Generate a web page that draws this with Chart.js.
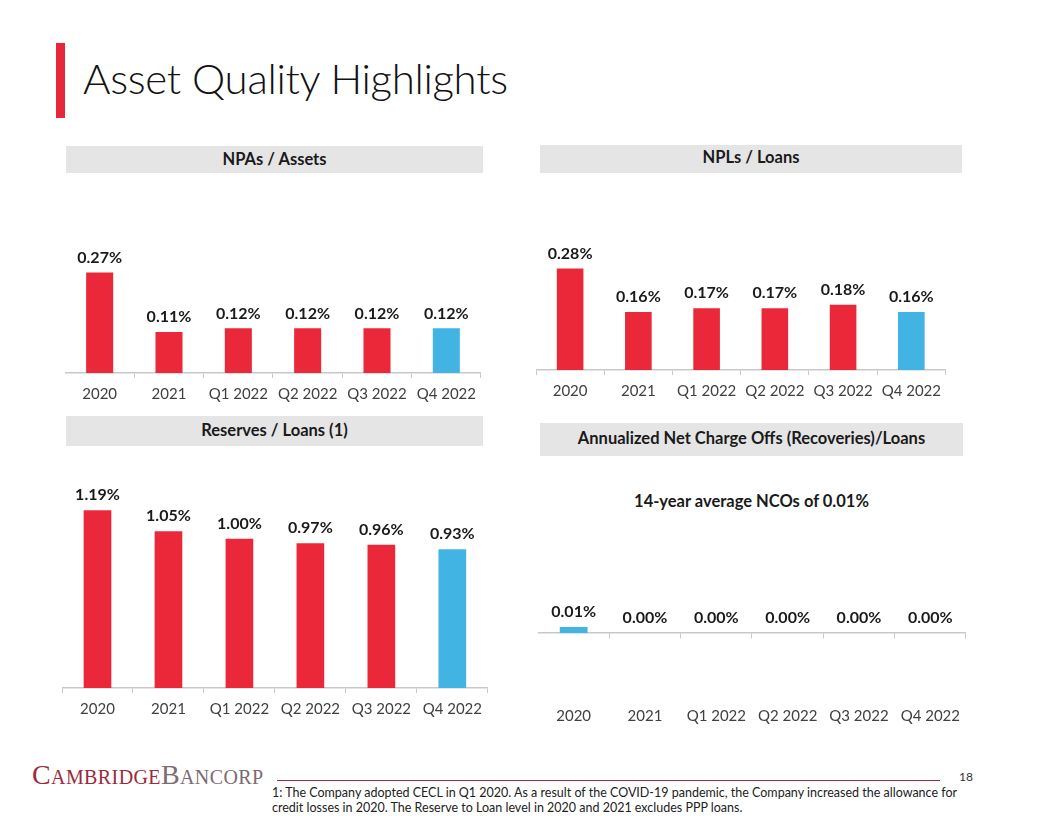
<!DOCTYPE html>
<html>
<head>
<meta charset="utf-8">
<script src="https://cdn.jsdelivr.net/npm/chart.js@4.4.1/dist/chart.umd.min.js"></script>
<style>
  html, body { margin: 0; padding: 0; background: #fff; }
  #page { position: relative; width: 1056px; height: 816px; overflow: hidden; font-family: Lato, "Open Sans", sans-serif; color: #1a1a1a; }
  .accent { position: absolute; left: 56px; top: 43px; width: 9px; height: 75px; background: #E8283A; }
  .title { position: absolute; left: 83px; top: 53px; font-size: 42px; letter-spacing: -0.3px; font-weight: 300; color: #111; white-space: nowrap; }
  .hdr { position: absolute; background: #E6E5E6; font-weight: 700; font-size: 16.5px; text-align: center; color: #1a1a1a; white-space: nowrap; }
  .sub { position: absolute; left: 540px; width: 423px; top: 491px; text-align: center; font-weight: 700; font-size: 16.5px; }
  .box { position: absolute; }
  .logo { position: absolute; left: 32px; top: 759px; font-family: "Liberation Serif", "DejaVu Serif", serif; font-size: 28px; font-variant: small-caps; letter-spacing: 0.4px; white-space: nowrap; }
  .logo .c { color: #9C2A3A; }
  .logo .b { color: #7E6A72; }
  .rule { position: absolute; left: 277px; top: 780px; width: 663px; height: 1px; background: #9C2A3A; }
  .pnum { position: absolute; left: 959px; top: 769px; font-size: 12px; color: #333; }
  .note { position: absolute; left: 272px; top: 785px; font-size: 12.5px; line-height: 15px; color: #222; white-space: nowrap; }
</style>
</head>
<body>
<div id="page">
  <div class="accent"></div>
  <div class="title">Asset Quality Highlights</div>

  <div class="hdr" style="left:66px;top:146px;width:417px;height:27px;line-height:27px;">NPAs / Assets</div>
  <div class="hdr" style="left:540px;top:145px;width:422px;height:28px;line-height:25px;">NPLs / Loans</div>
  <div class="hdr" style="left:66px;top:416px;width:417px;height:30px;line-height:28px;">Reserves / Loans (1)</div>
  <div class="hdr" style="left:540px;top:423px;width:423px;height:33px;line-height:31px;">Annualized Net Charge Offs (Recoveries)/Loans</div>
  <div class="sub">14-year average NCOs of 0.01%</div>

  <div class="box" style="left:65px;top:200px;width:418px;height:210px;"><canvas id="chartNpa"></canvas></div>
  <div class="box" style="left:536px;top:190px;width:412px;height:217px;"><canvas id="chartNpl"></canvas></div>
  <div class="box" style="left:62px;top:470px;width:427px;height:255px;"><canvas id="chartRes"></canvas></div>
  <div class="box" style="left:538px;top:543px;width:428px;height:188px;"><canvas id="chartNco"></canvas></div>

  <div class="logo"><span class="c">Cambridge</span><span class="b">Bancorp</span></div>
  <div class="rule"></div>
  <div class="pnum">18</div>
  <div class="note">1: The Company adopted CECL in Q1 2020. As a result of the COVID-19 pandemic, the Company increased the allowance for<br>credit losses in 2020. The Reserve to Loan level in 2020 and 2021 excludes PPP loans.</div>
</div>

<script>
// ---- data ----
const periods = ['2020', '2021', 'Q1 2022', 'Q2 2022', 'Q3 2022', 'Q4 2022'];
const npaAssets = [0.27, 0.11, 0.12, 0.12, 0.12, 0.12];
const nplLoans = [0.28, 0.16, 0.17, 0.17, 0.18, 0.16];
const reservesLoans = [1.19, 1.05, 1.00, 0.97, 0.96, 0.93];
const ncoLoans = [0.01, 0.00, 0.00, 0.00, 0.00, 0.00];

// ---- colours ----
const RED = '#EA2839';
const BLUE = '#41B4E4';
const AXIS = '#C8C8C8';
const FONT = 'Lato, "Open Sans", sans-serif';

// last period highlighted in blue
const barColors = periods.map((p, i) => i === periods.length - 1 ? BLUE : RED);
const ncoColors = periods.map((p, i) => i === 0 ? BLUE : RED);

// value labels drawn above every bar
const valueLabels = {
  id: 'valueLabels',
  afterDatasetsDraw(chart) {
    const ctx = chart.ctx;
    const ds = chart.data.datasets[0];
    chart.getDatasetMeta(0).data.forEach((bar, i) => {
      ctx.save();
      ctx.font = '700 16px ' + FONT;
      ctx.fillStyle = '#1a1a1a';
      ctx.textAlign = 'center';
      ctx.textBaseline = 'middle';
      ctx.fillText(ds.data[i].toFixed(2) + '%', bar.x, bar.y - 15);
      ctx.restore();
    });
  }
};

const tickFont = { family: FONT, size: 15 };

function crearBarras(id, values, colors, yMin, yMax) {
  return new Chart(document.getElementById(id), {
    type: 'bar',
    data: {
      labels: periods,
      datasets: [{ data: values, backgroundColor: colors, barPercentage: 0.39, categoryPercentage: 1 }]
    },
    options: {
      responsive: true,
      maintainAspectRatio: false,
      animation: false,
      layout: { padding: 0 },
      plugins: { legend: { display: false }, tooltip: { enabled: false } },
      scales: {
        x: {
          grid: { display: true, drawOnChartArea: false, drawTicks: true, tickLength: 5, color: AXIS, offset: true },
          border: { display: true, color: AXIS, width: 1.5 },
          ticks: { font: tickFont, color: '#404040', padding: 7, maxRotation: 0, autoSkip: false }
        },
        y: { display: false, min: yMin, max: yMax }
      }
    },
    plugins: [valueLabels]
  });
}

crearBarras('chartNpa', npaAssets, barColors, 0, 0.465);
crearBarras('chartNpl', nplLoans, barColors, 0, 0.496);
crearBarras('chartRes', reservesLoans, barColors, 0, 1.46);

// NCO chart: zero line sits above the category labels
new Chart(document.getElementById('chartNco'), {
  type: 'bar',
  data: {
    labels: periods,
    datasets: [{ data: ncoLoans, backgroundColor: ncoColors, barPercentage: 0.39, categoryPercentage: 1, xAxisID: 'x' }]
  },
  options: {
    responsive: true,
    maintainAspectRatio: false,
    animation: false,
    plugins: { legend: { display: false }, tooltip: { enabled: false } },
    scales: {
      x: {
        position: { y: 0 },
        offset: true,
        grid: { display: true, drawOnChartArea: false, drawTicks: true, tickLength: 5, color: AXIS, offset: true },
        border: { display: true, color: AXIS, width: 1.5 },
        ticks: { display: false }
      },
      x2: {
        type: 'category',
        position: 'bottom',
        offset: true,
        grid: { display: false },
        border: { display: false },
        ticks: { font: tickFont, color: '#404040', padding: 6, maxRotation: 0, autoSkip: false }
      },
      y: { display: false, min: -0.10, max: 0.15 }
    }
  },
  plugins: [valueLabels]
});
</script>
</body>
</html>
